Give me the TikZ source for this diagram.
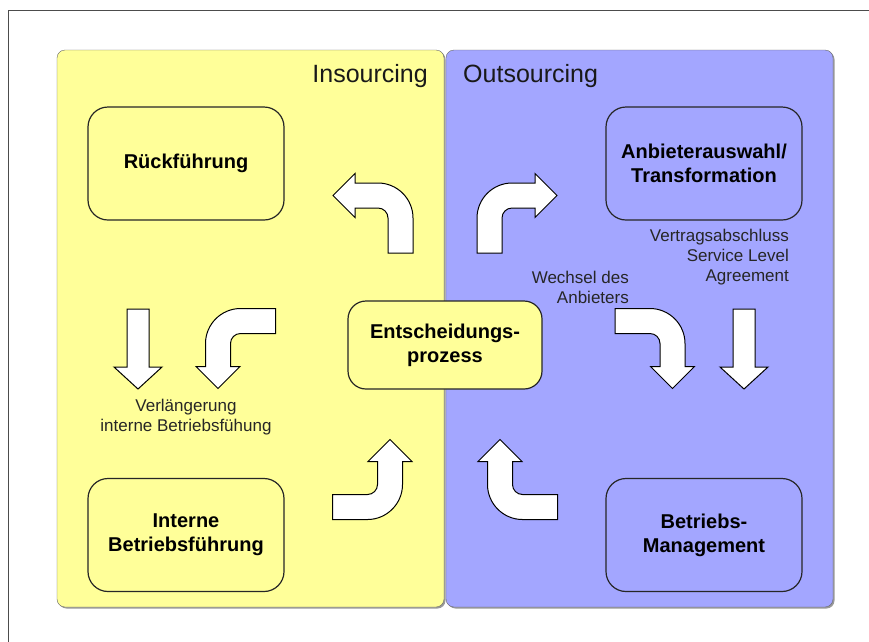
\documentclass[tikz,border=0pt]{standalone}
\usepackage{fontspec}
\setmainfont{Liberation Sans}
\definecolor{insource}{RGB}{255,255,153}
\definecolor{outsource}{RGB}{163,166,255}

\begin{document}
\begin{tikzpicture}[x=1pt, y=-1pt,
    phase/.style={draw=black!85, line width=1.2pt, rounded corners=20pt,
      minimum width=196pt, minimum height=113pt, align=center,
      font=\fontsize{20}{24}\selectfont\bfseries},
    side/.style={font=\fontsize{25}{30}\selectfont, text=black!90, inner sep=0pt},
    note/.style={font=\fontsize{17}{20}\selectfont, text=black!85, inner sep=0pt},
    blockarrow/.style={draw=black, fill=white, line width=1pt, line join=miter},
    % bent block arrow: leg comes up from below, turns left, head at (-67.5,0)
    pics/bentarrow/.style={code={
      \draw[blockarrow] (-12.5,57.5) -- (-12.5,22.5)
        .. controls (-12.5,17) and (-17,12.5) .. (-22.5,12.5)
        -- (-45.5,12.5) -- (-45.5,22) -- (-67.5,0) -- (-45.5,-22) -- (-45.5,-12.5)
        -- (-22.5,-12.5) .. controls (-3.25,-12.5) and (12.5,3.25) .. (12.5,22.5)
        -- (12.5,57.5) -- cycle;
    }},
    % straight block arrow pointing down, origin at top of shaft
    pics/downarrow/.style={code={
      \draw[blockarrow] (-11,0) -- (11,0) -- (11,58) -- (24,58) -- (0,80)
        -- (-24,58) -- (-11,58) -- cycle;
    }}]
  \clip (0,0) rectangle (869,641);
  \fill[white] (0,0) rectangle (869,641);

  % outer frame, runs off the page at right and bottom
  \draw[black!70, line width=1pt] (8,660) -- (8,10) -- (890,10);

  % the two halves
  \fill[black!40, rounded corners=8pt] (58.5,51.5) rectangle (445.5,608.5);
  \draw[black!60, fill=insource, rounded corners=8pt] (57,50) rectangle (444,607);
  \fill[black!40, rounded corners=8pt] (447.5,51.5) rectangle (834.5,608.5);
  \draw[black!60, fill=outsource, rounded corners=8pt] (446,50) rectangle (833,607);

  \node[side, anchor=base east] (insourcing) at (428,82) {Insourcing};
  \node[side, anchor=base west] (outsourcing) at (463,82) {Outsourcing};

  % phases
  \node[phase, fill=insource] (rueck) at (186,163.5) {Rückführung};
  \node[phase, fill=outsource] (anbieter) at (704,163.5) {Anbieterauswahl/\\Transformation};
  \node[phase, fill=insource] (intern) at (186,535) {Interne\\Betriebsführung};
  \node[phase, fill=outsource] (betrieb) at (704,535) {Betriebs-\\Management};
  \node[phase, fill=insource, minimum width=194pt, minimum height=88pt,
    rounded corners=18pt] (entscheid) at (445,345) {Entscheidungs-\\prozess};

  % block arrows of the cycle
  \pic at (400.5,195.5) {bentarrow};
  \pic[xscale=-1] at (489.5,195.5) {bentarrow};
  \pic[rotate=90] at (218,321) {bentarrow};
  \pic[xscale=-1, rotate=90] at (672.5,321) {bentarrow};
  \pic[rotate=-90] at (390,507) {bentarrow};
  \pic[xscale=-1, rotate=-90] at (500,507) {bentarrow};
  \pic at (138,309) {downarrow};
  \pic at (744,309) {downarrow};

  % notes
  \node[note, align=right, anchor=east] (vertrag) at (789,257)
    {Vertragsabschluss\\Service Level\\Agreement};
  \node[note, align=right, anchor=east] (wechsel) at (629,287)
    {Wechsel des\\Anbieters};
  \node[note, align=center] (verlaengerung) at (186,417)
    {Verlängerung\\interne Betriebsfühung};
\end{tikzpicture}
\end{document}
